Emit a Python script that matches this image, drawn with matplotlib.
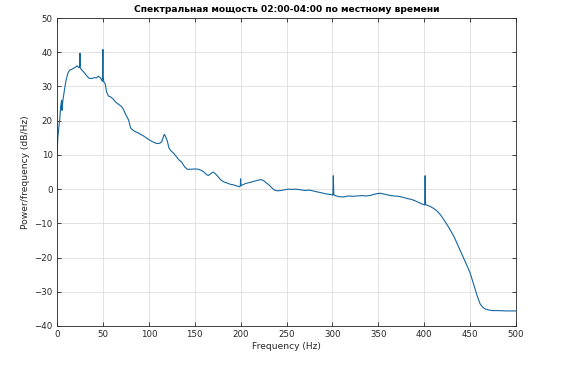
import matplotlib
matplotlib.use("Agg")
import matplotlib.pyplot as plt

# frequency (Hz) and PSD (dB/Hz), row by row
freq = [0, 0.5, 1, 2, 3, 4, 5, 5.5, 6, 7, 8.7, 10,
        12, 14, 16, 18, 20, 22, 24, 24.8, 25, 25.3, 27, 30,
        32, 35, 38, 41, 43, 45, 47, 48.5, 49.5, 49.8, 50, 50.3,
        51, 52.5, 54, 56, 58, 61, 64, 67, 70, 72, 74, 76,
        78, 80, 82, 85, 88, 91, 94, 97, 100, 103, 106, 109,
        112, 114, 116, 117, 118, 120, 122, 124, 127, 130, 133, 136,
        139, 142, 146, 150, 154, 157, 160, 163, 165, 167, 170, 172,
        175, 178, 181, 185, 189, 193, 196, 199, 199.7, 200, 200.4, 202,
        205, 208, 212, 216, 219, 222, 225, 228, 231, 234, 237, 240,
        244, 248, 252, 256, 260, 265, 270, 275, 280, 285, 290, 295,
        299, 300.5, 301, 301.5, 303, 307, 312, 317, 322, 327, 332, 337,
        342, 347, 352, 357, 362, 367, 372, 377, 382, 386, 390, 394,
        397, 399.5, 400.5, 401, 401.5, 403, 406, 410, 414, 418, 421, 424,
        427, 430, 433, 436, 439, 442, 445, 448, 450, 452, 455, 458,
        461, 464, 467, 470, 474, 480, 490, 500]
psd = [10.0, 12.5, 15.5, 18.0, 20.5, 24.0, 26.0, 23.0, 25.0, 27.0, 30.0, 32.0,
       34.0, 34.8, 35.0, 35.3, 35.6, 36.0, 35.5, 36.0, 39.7, 35.4, 34.8, 34.0,
       33.2, 32.4, 32.3, 32.6, 32.5, 33.0, 32.6, 32.0, 31.5, 36.5, 40.8, 33.0,
       31.3, 30.8, 28.4, 27.2, 27.0, 26.4, 25.4, 24.8, 24.2, 23.5, 22.3, 21.2,
       20.2, 18.0, 17.4, 16.8, 16.5, 16.0, 15.6, 15.0, 14.5, 14.0, 13.6, 13.3,
       13.4, 13.8, 15.4, 16.0, 15.5, 14.2, 12.0, 11.2, 10.5, 9.5, 8.5, 7.8,
       6.5, 5.8, 5.8, 5.9, 5.8, 5.5, 5.0, 4.2, 4.0, 4.4, 5.0, 4.6,
       3.8, 2.8, 2.2, 1.8, 1.4, 1.2, 0.9, 0.7, 1.0, 3.0, 1.0, 1.2,
       1.6, 1.8, 2.1, 2.4, 2.6, 2.8, 2.5, 1.8, 1.2, 0.4, -0.3, -0.5,
       -0.4, -0.2, 0.0, -0.1, 0.0, -0.2, -0.4, -0.3, -0.6, -0.9, -1.2, -1.5,
       -1.6, -1.8, 3.9, -1.6, -1.9, -2.2, -2.3, -2.0, -2.1, -2.0, -1.9, -2.0,
       -1.8, -1.4, -1.2, -1.5, -1.8, -2.0, -2.1, -2.4, -2.8, -3.0, -3.4, -3.9,
       -4.3, -4.5, -4.6, 3.9, -4.6, -4.7, -5.0, -5.6, -6.4, -7.6, -8.8, -10.0,
       -11.3, -12.7, -14.2, -16.0, -17.8, -19.6, -21.4, -23.2, -24.5, -26.2, -28.8, -31.4,
       -33.6, -34.6, -35.1, -35.3, -35.5, -35.5, -35.6, -35.6]

fig = plt.figure(figsize=(5.61, 3.66), dpi=100)
ax = fig.add_axes([0.1016, 0.1093, 0.8182, 0.8415])
ax.plot(freq, psd, color="#14669f", linewidth=0.8)

ax.set_xlim(0, 500)
ax.set_ylim(-40, 50)
ax.set_xticks(range(0, 501, 50))
ax.set_yticks(range(-40, 51, 10))
ax.grid(True, color=(0.87, 0.87, 0.87), linewidth=0.6)
ax.set_axisbelow(True)
ax.tick_params(direction="in", top=True, right=True, labelsize=6.2, colors=(0.15, 0.15, 0.15),
               length=3, width=0.6, pad=3)
for s in ax.spines.values():
    s.set_color((0.15, 0.15, 0.15))
    s.set_linewidth(0.6)

ax.set_title("Спектральная мощость 02:00-04:00 по местному времени", fontsize=6.6, fontweight="bold", pad=4)
ax.set_xlabel("Frequency (Hz)", fontsize=6.6, color=(0.15, 0.15, 0.15), labelpad=2)
ax.set_ylabel("Power/frequency (dB/Hz)", fontsize=6.6, color=(0.15, 0.15, 0.15), labelpad=3)

fig.savefig("out.png", dpi=100)
